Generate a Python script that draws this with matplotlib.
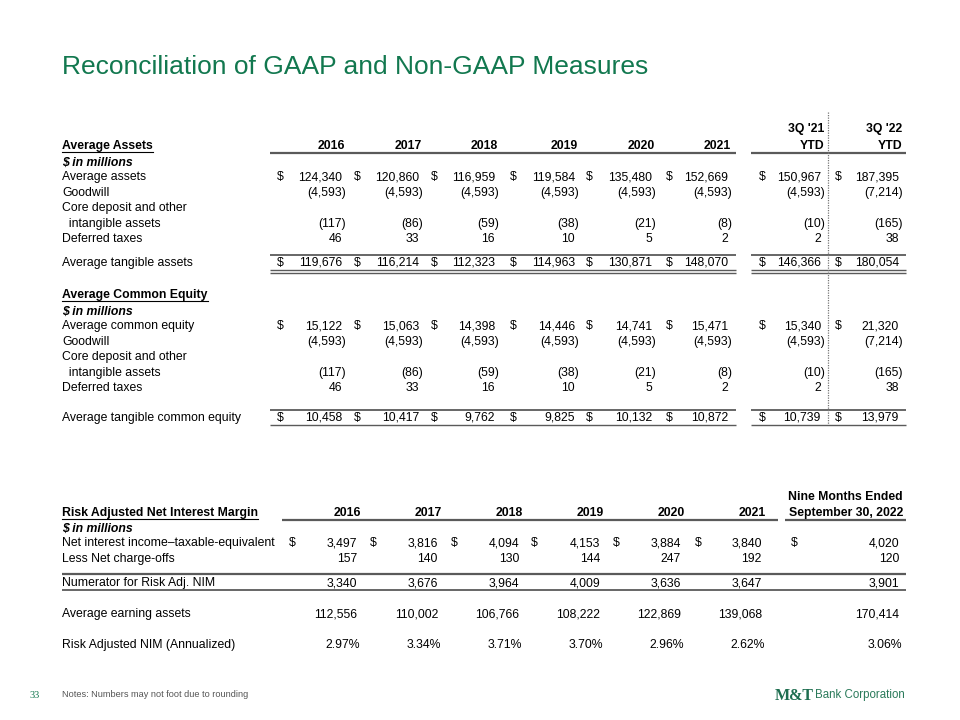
import matplotlib
matplotlib.use("Agg")
import matplotlib.pyplot as plt

# ---- data (USD millions) ----
years = ['2016', '2017', '2018', '2019', '2020', '2021']
ytd_top = ["3Q '21", "3Q '22"]

avg_assets = [124340, 120860, 116959, 119584, 135480, 152669, 150967, 187395]
goodwill_assets = [-4593, -4593, -4593, -4593, -4593, -4593, -4593, -7214]
core_deposit_assets = [-117, -86, -59, -38, -21, -8, -10, -165]
deferred_tax_assets = [46, 33, 16, 10, 5, 2, 2, 38]
avg_tangible_assets = [119676, 116214, 112323, 114963, 130871, 148070, 146366, 180054]

avg_common_equity = [15122, 15063, 14398, 14446, 14741, 15471, 15340, 21320]
goodwill_equity = [-4593, -4593, -4593, -4593, -4593, -4593, -4593, -7214]
core_deposit_equity = [-117, -86, -59, -38, -21, -8, -10, -165]
deferred_tax_equity = [46, 33, 16, 10, 5, 2, 2, 38]
avg_tangible_equity = [10458, 10417, 9762, 9825, 10132, 10872, 10739, 13979]

nii_te = [3497, 3816, 4094, 4153, 3884, 3840, 4020]
net_chargeoffs = [157, 140, 130, 144, 247, 192, 120]
numerator_nim = [3340, 3676, 3964, 4009, 3636, 3647, 3901]
avg_earning_assets = [112556, 110002, 106766, 108222, 122869, 139068, 170414]
risk_adj_nim = [2.97, 3.34, 3.71, 3.70, 2.96, 2.62, 3.06]

GREEN = '#12784f'
LINE = '#5a5a5a'
FS = 8.8
plt.rcParams['font.family'] = ['Liberation Sans', 'DejaVu Sans']

fig = plt.figure(figsize=(9.6, 7.2), dpi=100)
ax = fig.add_axes([0, 0, 1, 1])
ax.set_xlim(0, 960)
ax.set_ylim(720, 0)
ax.axis('off')
renderer = fig.canvas.get_renderer()


def txt(x, y, s, ha='left', weight='normal', style='normal', size=FS, color='black', **kw):
    # y is the visual middle of the capitals; place on the baseline so that
    # commas / parentheses don't shift rows around
    base = y + size * 100 / 72 * 0.716 / 2
    return ax.text(x, base, s, ha=ha, va='baseline', fontsize=size, fontweight=weight,
                   fontstyle=style, color=color, **kw)


def underline(t, y):
    bb = t.get_window_extent(renderer)
    ax.plot([bb.x0, bb.x1], [y, y], color='black', lw=0.8)


def hline(x0, x1, y, lw=1.3):
    ax.plot([x0, x1], [y, y], color=LINE, lw=lw, solid_capstyle='butt')


def fmt(v):
    return f"({abs(v):,})" if v < 0 else f"{v:,}"


# title
txt(62, 65, 'Reconciliation of GAAP and Non-GAAP Measures', size=19, color=GREEN)

# ---- top two tables ----
col_r = [346, 423, 499, 579, 656, 732, 825, 903]
dollar_x = [277, 354, 431, 510, 586, 666, 759, 835]


def put_row(y, vals, dollar=False):
    for i, v in enumerate(vals):
        right = col_r[i] if v < 0 else col_r[i] - 4
        txt(right, y, fmt(v), ha='right')
        if dollar:
            txt(dollar_x[i], y, '$')


def put_block(y0, head, first_label, first, gw, core, dt, total_label, total, double):
    t = txt(62, y0, head, weight='bold')
    underline(t, y0 + 7)
    txt(62, y0 + 16, '$ in millions', weight='bold', style='italic')
    rows = [(first_label, first, True), ('Goodwill', gw, False)]
    y = y0 + 31
    for lab, vals, dol in rows:
        txt(62, y, lab)
        put_row(y, vals, dol)
        y += 15.5
    txt(62, y, 'Core deposit and other')
    y += 15.5
    txt(62, y, '  intangible assets')
    put_row(y, core)
    y += 15.5
    txt(62, y, 'Deferred taxes')
    put_row(y, dt)
    yt = y + 23.5 + (0 if double else 6)
    txt(62, yt, total_label)
    put_row(yt, total, True)
    for a, b in [(270, 736), (751, 906)]:
        hline(a, b, yt - 7)
        if double:
            hline(a, b, yt + 8, lw=1.0)
            hline(a, b, yt + 11, lw=1.0)
        else:
            hline(a, b, yt + 8, lw=1.0)


# top header
for i, yr in enumerate(years):
    txt(col_r[i] - 1, 145, yr, ha='right', weight='bold')
for j, lab in enumerate(ytd_top):
    txt(col_r[6 + j] - 1, 128, lab, ha='right', weight='bold')
    txt(col_r[6 + j] - 1, 145, 'YTD', ha='right', weight='bold')
hline(270, 736, 153, lw=1.6)
hline(751, 906, 153, lw=1.6)

put_block(145, 'Average Assets', 'Average assets', avg_assets, goodwill_assets,
          core_deposit_assets, deferred_tax_assets, 'Average tangible assets',
          avg_tangible_assets, True)
put_block(294, 'Average Common Equity', 'Average common equity', avg_common_equity,
          goodwill_equity, core_deposit_equity, deferred_tax_equity,
          'Average tangible common equity', avg_tangible_equity, False)

ax.plot([828, 828], [112, 424], color='#777777', lw=0.9, ls=(0, (1, 1)))

# ---- risk adjusted NIM table ----
num_r = [357, 438, 519, 600, 681, 762, 899]
dol3 = [289, 370, 451, 531, 613, 695, 791]

t = txt(62, 512, 'Risk Adjusted Net Interest Margin', weight='bold')
underline(t, 519)
for i, yr in enumerate(years):
    txt(num_r[i] + 4, 512, yr, ha='right', weight='bold')
txt(num_r[6] + 4, 496, 'Nine Months Ended', ha='right', weight='bold')
txt(num_r[6] + 4, 512, 'September 30, 2022', ha='right', weight='bold')
hline(282, 778, 520, lw=1.6)
hline(785, 906, 520, lw=1.6)
txt(62, 527, '$ in millions', weight='bold', style='italic')

txt(62, 542, 'Net interest income\u2013taxable-equivalent')
for i, v in enumerate(nii_te):
    txt(num_r[i], 542, fmt(v), ha='right')
    txt(dol3[i], 542, '$')
txt(62, 558, 'Less Net charge-offs')
for i, v in enumerate(net_chargeoffs):
    txt(num_r[i], 558, fmt(v), ha='right')
hline(62, 906, 574, lw=1.6)
txt(62, 582, 'Numerator for Risk Adj. NIM')
for i, v in enumerate(numerator_nim):
    txt(num_r[i], 582, fmt(v), ha='right')
hline(62, 906, 590, lw=1.3)
txt(62, 613, 'Average earning assets')
for i, v in enumerate(avg_earning_assets):
    txt(num_r[i], 613, fmt(v), ha='right')
txt(62, 644, 'Risk Adjusted NIM (Annualized)')
for i, v in enumerate(risk_adj_nim):
    txt(num_r[i] + 3, 644, f"{v:.2f}%", ha='right')

# ---- footer ----
txt(30, 694, '33', size=7.5, color=GREEN, family=['Liberation Serif', 'DejaVu Serif'])
txt(62, 694, 'Notes: Numbers may not foot due to rounding', size=6.6, color='#555555')
logo = txt(775, 694, 'M&T', size=11.5, weight='bold', color='#1e6e50',
           family=['Liberation Serif', 'DejaVu Serif'])
bb = logo.get_window_extent(renderer)
txt(bb.x1 + 1, 694, 'Bank Corporation', size=8.3, color='#2a7a5a')

fig.savefig('out.png', dpi=100)
